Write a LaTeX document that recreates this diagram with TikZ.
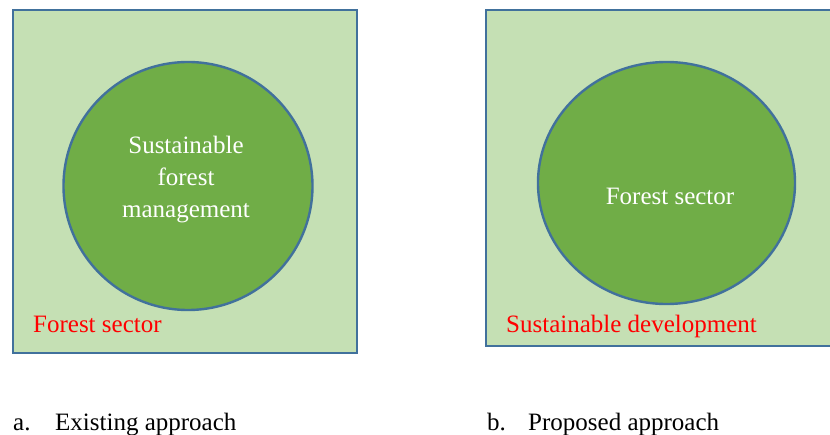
\documentclass[tikz,border=0pt]{standalone}
\usepackage{fontspec}
\setmainfont{Liberation Serif}
\begin{document}
\definecolor{paleGreen}{HTML}{C5E0B4}
\definecolor{leafGreen}{HTML}{70AD47}
\definecolor{edgeBlue}{HTML}{41719C}
\begin{tikzpicture}[x=1pt,y=-1pt,
  panel/.style={fill=paleGreen,draw=edgeBlue,line width=2.4pt},
  core/.style={fill=leafGreen,draw=edgeBlue,line width=2.4pt},
  inner/.style={text=white,font=\fontsize{25}{32}\selectfont,align=center,anchor=center,inner sep=0pt},
  tag/.style={text=red,font=\fontsize{25}{30}\selectfont,anchor=base west,inner sep=0pt},
  caption/.style={font=\fontsize{25}{30}\selectfont,anchor=base west,inner sep=0pt}]
\useasboundingbox (0,0) rectangle (830,435);
% panel a
\draw[panel] (13,10) rectangle (357,353);
\draw[core] (188,186) ellipse [x radius=124.5,y radius=124];
\node[inner] (sfm) at (186,180) {Sustainable\\forest\\management};
\node[tag] (fs) at (33,333) {Forest sector};
% panel b (runs past the right edge)
\begin{scope}
\clip (0,0) rectangle (830,435);
\draw[panel] (486,10) rectangle (840,346);
\end{scope}
\draw[core] (666.5,183) ellipse [x radius=128.5,y radius=121];
\node[inner,anchor=base] (fsb) at (670,205) {Forest sector};
\node[tag] (sd) at (506,333) {Sustainable development};
% captions
\node[caption] (ca) at (13,430) {a.};
\node[caption] (cat) at (55,430) {Existing approach};
\node[caption] (cb) at (487,430) {b.};
\node[caption] (cbt) at (528,430) {Proposed approach};
\end{tikzpicture}
\end{document}
